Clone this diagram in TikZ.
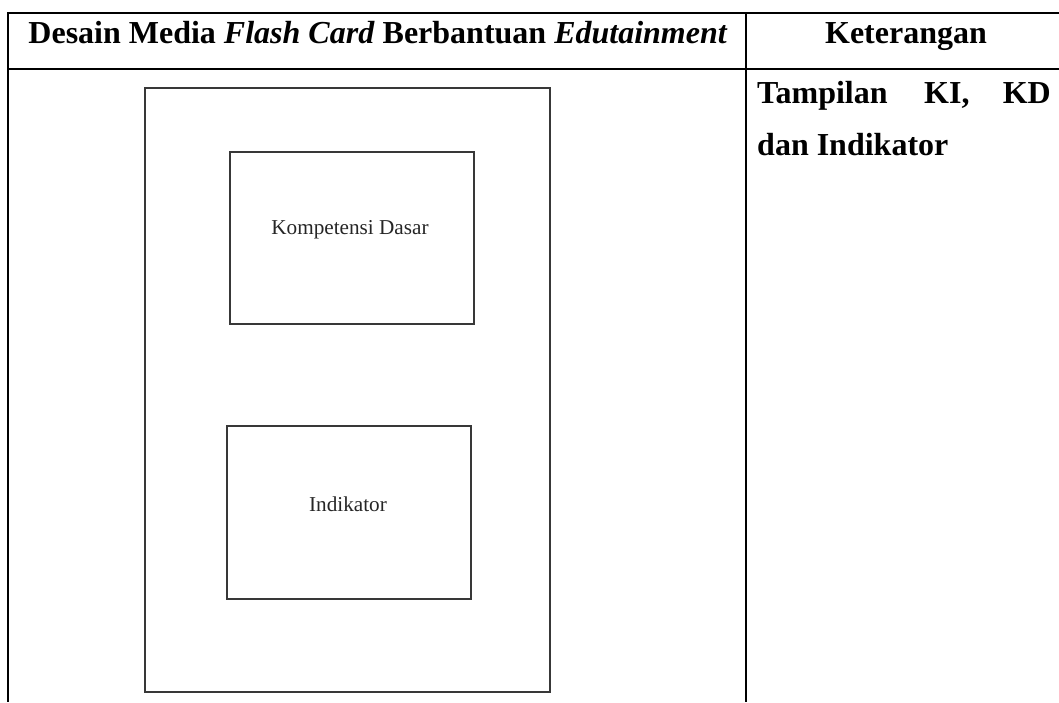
\documentclass[tikz,border=0pt]{standalone}
\usepackage{fontspec}
\setmainfont{Liberation Serif}
\begin{document}
\begin{tikzpicture}[x=1pt,y=-1pt,
  rule/.style={line width=2pt,black},
  cardbox/.style={draw=black!78,line width=1.3pt,inner sep=0pt},
  headtext/.style={font=\fontsize{32}{36}\selectfont\bfseries,anchor=base,inner sep=0pt},
  desctext/.style={font=\fontsize{32}{36}\selectfont\bfseries,inner sep=0pt},
  boxtext/.style={font=\fontsize{21.2}{26}\selectfont,text=black!85,anchor=base,inner sep=0pt}]
\useasboundingbox (0,0) rectangle (1059,702);

% table rules
\draw[rule] (8,13) -- (1059,13);
\draw[rule] (8,69) -- (1059,69);
\draw[rule] (8,12) -- (8,702);
\draw[rule] (746,12) -- (746,702);

% header row
\node[headtext] (h1) at (378,43) {Desain Media \textit{Flash Card} Berbantuan \textit{Edutainment}};
\node[headtext] (h2) at (906,43) {Keterangan};

% description column (justified first line)
\node[desctext,anchor=base west] (d1) at (757,103) {Tampilan};
\node[desctext,anchor=base west] (d2) at (924,103) {KI,};
\node[desctext,anchor=base east] (d3) at (1051,103) {KD};
\node[desctext,anchor=base west] (d4) at (757,155) {dan Indikator};

% flash card layout
\node[cardbox,minimum width=405pt,minimum height=604pt] (card) at (347.5,390) {};
\node[cardbox,minimum width=244pt,minimum height=172pt] (kd) at (352,238) {};
\node[cardbox,minimum width=244pt,minimum height=173pt] (ind) at (349,512.5) {};
\node[boxtext] (kdlabel) at (350,234) {Kompetensi Dasar};
\node[boxtext] (indlabel) at (348,511) {Indikator};
\end{tikzpicture}
\end{document}
